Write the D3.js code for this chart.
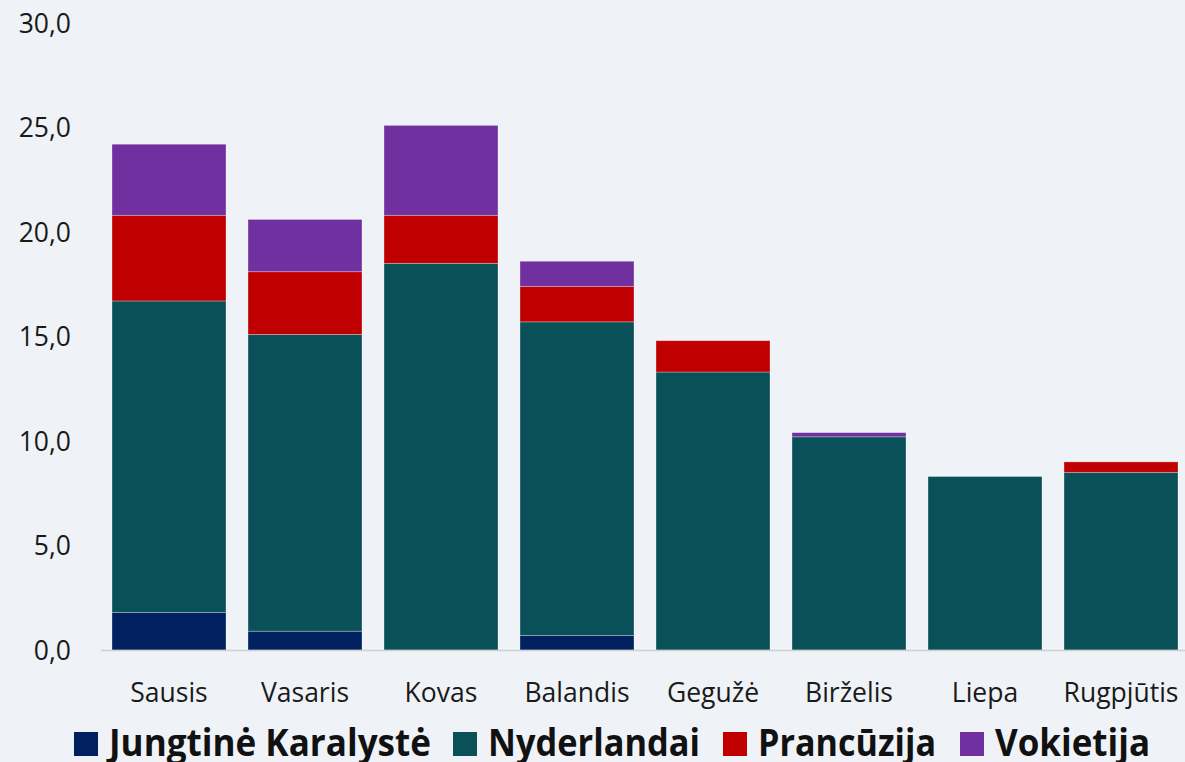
<!DOCTYPE html>
<html>
<head>
<meta charset="utf-8">
<script src="https://cdn.jsdelivr.net/npm/d3@7"></script>
<style>
  body { margin: 0; background: #eff3f7; }
  svg { display: block; }
</style>
</head>
<body>
<div id="chart"></div>
<script>
// months
const months = ["Sausis", "Vasaris", "Kovas", "Balandis", "Gegužė", "Birželis", "Liepa", "Rugpjūtis"];
const seriesNames = ["Jungtinė Karalystė", "Nyderlandai", "Prancūzija", "Vokietija"];
const seriesColors = ["#002060", "#0a5058", "#c00000", "#7030a0"];

const ukValues = [1.8, 0.9, 0.0, 0.7, 0.0, 0.0, 0.0, 0.0];
const nlValues = [14.9, 14.2, 18.5, 15.0, 13.3, 10.2, 8.3, 8.5];
const frValues = [4.1, 3.0, 2.3, 1.7, 1.5, 0.0, 0.0, 0.5];
const deValues = [3.4, 2.5, 4.3, 1.2, 0.0, 0.2, 0.0, 0.0];

const yTicks = [0, 5, 10, 15, 20, 25, 30];

const width = 1185, height = 762;
const margin = { top: 23, right: -4, bottom: 112, left: 101 };

const rows = months.map((m, i) => ({
  month: m,
  [seriesNames[0]]: ukValues[i],
  [seriesNames[1]]: nlValues[i],
  [seriesNames[2]]: frValues[i],
  [seriesNames[3]]: deValues[i]
}));

const stacked = d3.stack().keys(seriesNames)(rows);

const svg = d3.select("#chart").append("svg")
  .attr("width", width)
  .attr("height", height);

const x = d3.scaleBand()
  .domain(months)
  .range([margin.left, width - margin.right])
  .paddingInner(0.162)
  .paddingOuter(0.081);

const y = d3.scaleLinear()
  .domain([0, 30])
  .range([height - margin.bottom, margin.top]);

const font = "'Open Sans', 'Noto Sans', sans-serif";

// y tick labels
svg.append("g")
  .selectAll("text")
  .data(yTicks)
  .join("text")
  .attr("x", 71)
  .attr("y", d => y(d))
  .attr("dy", "0.37em")
  .attr("text-anchor", "end")
  .attr("font-family", font)
  .attr("font-size", 26.5)
  .attr("fill", "#1a1a1a")
  .text(d => d3.format(".1f")(d).replace(".", ","));

// bars
svg.append("g")
  .selectAll("g")
  .data(stacked)
  .join("g")
  .attr("fill", (d, i) => seriesColors[i])
  .selectAll("rect")
  .data(d => d.filter(p => p[1] - p[0] > 0))
  .join("rect")
  .attr("x", d => x(d.data.month))
  .attr("y", d => y(d[1]))
  .attr("width", x.bandwidth())
  .attr("height", d => y(d[0]) - y(d[1]))
  .attr("stroke", "#ffffff")
  .attr("stroke-opacity", 0.35)
  .attr("stroke-width", 0.8);

// x axis line
svg.append("line")
  .attr("x1", margin.left)
  .attr("x2", width)
  .attr("y1", y(0) + 0.5)
  .attr("y2", y(0) + 0.5)
  .attr("stroke", "#d0d0d0")
  .attr("stroke-width", 1.5);

// category labels
svg.append("g")
  .selectAll("text")
  .data(months)
  .join("text")
  .attr("x", d => x(d) + x.bandwidth() / 2)
  .attr("y", 702)
  .attr("text-anchor", "middle")
  .attr("font-family", font)
  .attr("font-size", 26.5)
  .attr("fill", "#1a1a1a")
  .text(d => d);

// legend
const legendX = [74, 453, 723, 960];
const legendTextW = [322, 212, 178, 155];
const legend = svg.append("g")
  .selectAll("g")
  .data(seriesNames)
  .join("g")
  .attr("transform", (d, i) => `translate(${legendX[i]},0)`);

legend.append("rect")
  .attr("x", 0)
  .attr("y", 732)
  .attr("width", 24)
  .attr("height", 24)
  .attr("fill", (d, i) => seriesColors[i]);

legend.append("text")
  .attr("x", 35)
  .attr("y", 756)
  .attr("font-family", font)
  .attr("font-weight", "bold")
  .attr("font-size", 37)
  .attr("fill", "#111")
  .attr("textLength", (d, i) => legendTextW[i])
  .attr("lengthAdjust", "spacingAndGlyphs")
  .text(d => d);
</script>
</body>
</html>
